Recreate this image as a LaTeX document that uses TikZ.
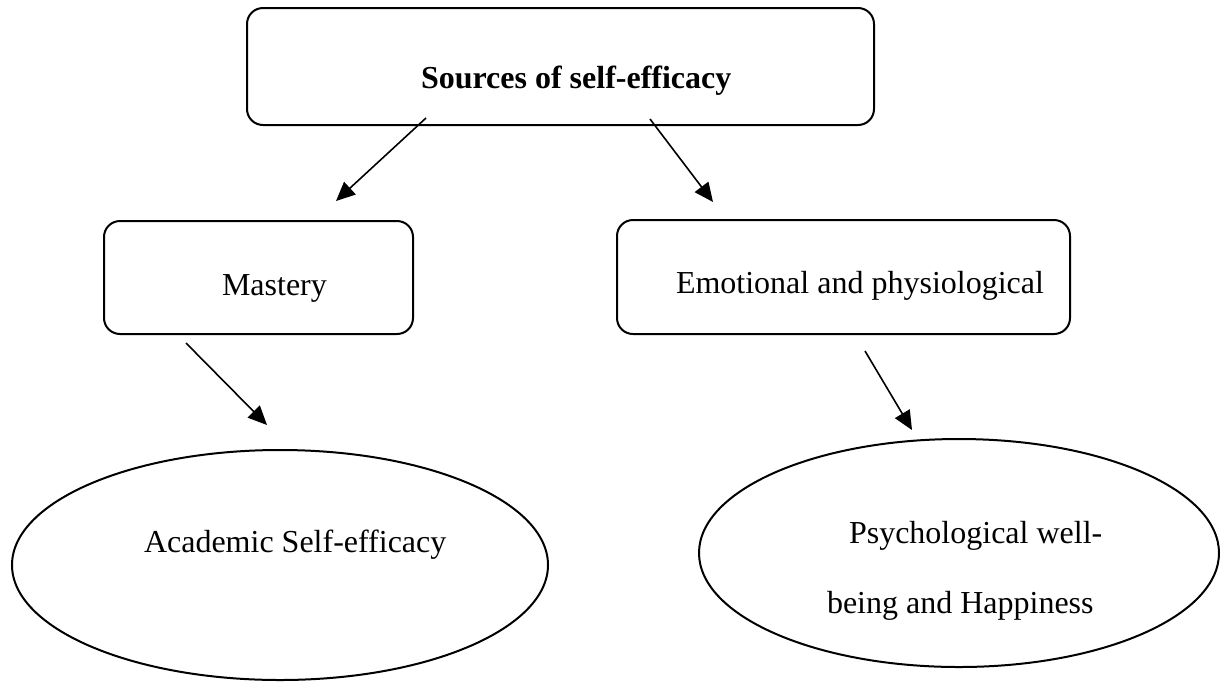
\documentclass[tikz,border=0pt]{standalone}
\usepackage{fontspec}
\setmainfont{Liberation Serif}
\usetikzlibrary{arrows.meta,shapes.geometric}
\begin{document}
\begin{tikzpicture}[x = 1pt, y = -1pt, line width = 2pt,
	box/.style = {draw, rounded corners = 16pt, inner sep = 0pt},
	oval/.style = {draw, ellipse, inner sep = 0pt},
	txt/.style = {font = \fontsize{32}{38}\selectfont, inner sep = 0pt, anchor = base west},
	arr/.style = {-{Triangle[length = 19pt, width = 17pt]}, line width = 1.6pt}]
	\useasboundingbox (0,0) rectangle (1220,681);
	\node[box, minimum width = 627pt, minimum height = 117pt] (src) at (560.5,66.5) {};
	\node[box, minimum width = 309pt, minimum height = 113pt] (mast) at (258.5,277.5) {};
	\node[box, minimum width = 453pt, minimum height = 114pt] (emo) at (843.5,277) {};
	\node[oval, minimum width = 536pt, minimum height = 230pt] (acad) at (280,565) {};
	\node[oval, minimum width = 520pt, minimum height = 228pt] (psy) at (959,553) {};
	\node[txt, font = \fontsize{32}{38}\selectfont\bfseries] (srctext) at (420,88) {Sources of self-efficacy};
	\node[txt] (masttext) at (221,295) {Mastery};
	\node[txt] (emotext) at (675,293) {Emotional and physiological};
	\node[txt] (acadtext) at (143,552) {Academic Self-efficacy};
	\node[txt] (psytext) at (848,543) {Psychological well-};
	\node[txt] (psytexttwo) at (826,613) {being and Happiness};
	\coordinate (s1) at (426,118);
	\coordinate (m1) at (336,201);
	\coordinate (s2) at (650,119);
	\coordinate (e1) at (713,202);
	\coordinate (m2) at (186,343);
	\coordinate (a1) at (267,425);
	\coordinate (e2) at (865,351);
	\coordinate (p1) at (912,430);
	\draw[arr] (s1) -- (m1);
	\draw[arr] (s2) -- (e1);
	\draw[arr] (m2) -- (a1);
	\draw[arr] (e2) -- (p1);
\end{tikzpicture}
\end{document}
